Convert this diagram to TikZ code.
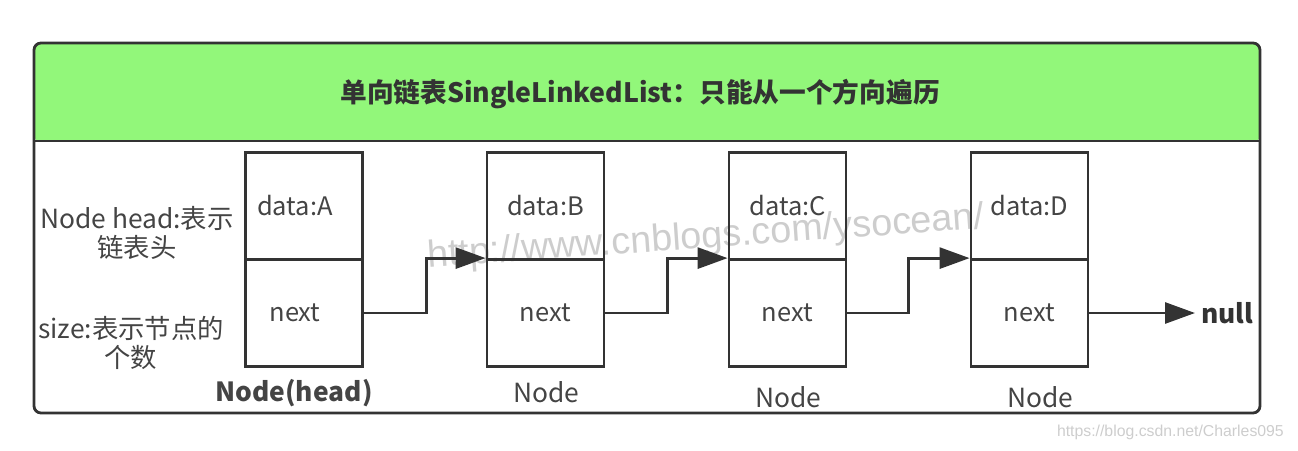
\documentclass[tikz,border=0pt]{standalone}
\usepackage{fontspec}
\setmainfont{Noto Sans CJK SC}
\newfontfamily\markfont{Liberation Sans}
\usetikzlibrary{arrows.meta}

\definecolor{headgreen}{RGB}{146,247,122}
\definecolor{inkgray}{RGB}{51,51,51}
\definecolor{textgray}{RGB}{68,68,68}
\definecolor{markgray}{RGB}{205,205,205}

\tikzset{
    cell/.style={draw=inkgray, line width=1.6pt, minimum width=2.34cm,
        minimum height=2.14cm, inner sep=0pt, text=textgray,
        font=\fontsize{14.5}{16}\selectfont},
    caption/.style={text=textgray, font=\fontsize{15}{17}\selectfont},
    note/.style={text=textgray, align=center, font=\fontsize{15}{17}\selectfont},
    link/.style={draw=inkgray, line width=1.6pt,
        -{Triangle[length=0.6cm, width=0.42cm]}},
}

\begin{document}
\begin{tikzpicture}[x=0.02cm, y=-0.02cm]
    \useasboundingbox (0,0) rectangle (1298,450);

    % Frame with the green header
    \fill[headgreen, rounded corners=3] (34,43) rectangle (1260,141);
    \draw[inkgray, line width=1.6pt] (34,141) -- (1260,141);
    \draw[inkgray, line width=1.6pt, rounded corners=4] (34,43) rectangle (1260,413);
    \node[font=\bfseries\fontsize{15.2}{18}\selectfont, text=inkgray] (title) at (640,94)
        {单向链表SingleLinkedList：只能从一个方向遍历};

    % Watermarks
    \node[markgray, rotate=4, font=\markfont\fontsize{21.5}{24}\selectfont] (mark) at (706,238)
        {http://www.cnblogs.com/ysocean/};
    \node[markgray, font=\markfont\fontsize{9}{11}\selectfont, anchor=east] (csdn) at (1290,432)
        {https://blog.csdn.net/Charles095};

    % Notes on the left
    \node[note] (headnote) at (137,233) {Node head:表示\\链表头};
    \node[note] (sizenote) at (131,343) {size:表示节点的\\个数};

    % The four nodes of the list
    \foreach \n/\x/\s in {A/304/-0.36cm, B/545.5/0cm, C/787.5/0cm, D/1029.5/0cm} {
        \node[cell] (data\n) at (\x,206) {\hspace*{\s}data:\n};
        \node[cell] (next\n) at (\x,313) {\hspace*{\s}next};
    }

    \node[caption, font=\bfseries\fontsize{15}{17}\selectfont] (capA) at (294,393) {Node(head)};
    \node[caption] (capB) at (546,392) {Node};
    \node[caption] (capC) at (788,397) {Node};
    \node[caption] (capD) at (1040,397) {Node};

    % Links between the nodes
    \draw[link] (nextA.east) -- ++(63,0) |- (nextB.north west);
    \draw[link] (nextB.east) -- ++(62,0) |- (nextC.north west);
    \draw[link] (nextC.east) -- ++(61,0) |- (nextD.north west);

    \node[font=\bfseries\fontsize{15}{17}\selectfont, text=inkgray, anchor=west] (null) at (1195,313) {null};
    \draw[link] (nextD.east) -- (null.west);
\end{tikzpicture}
\end{document}
